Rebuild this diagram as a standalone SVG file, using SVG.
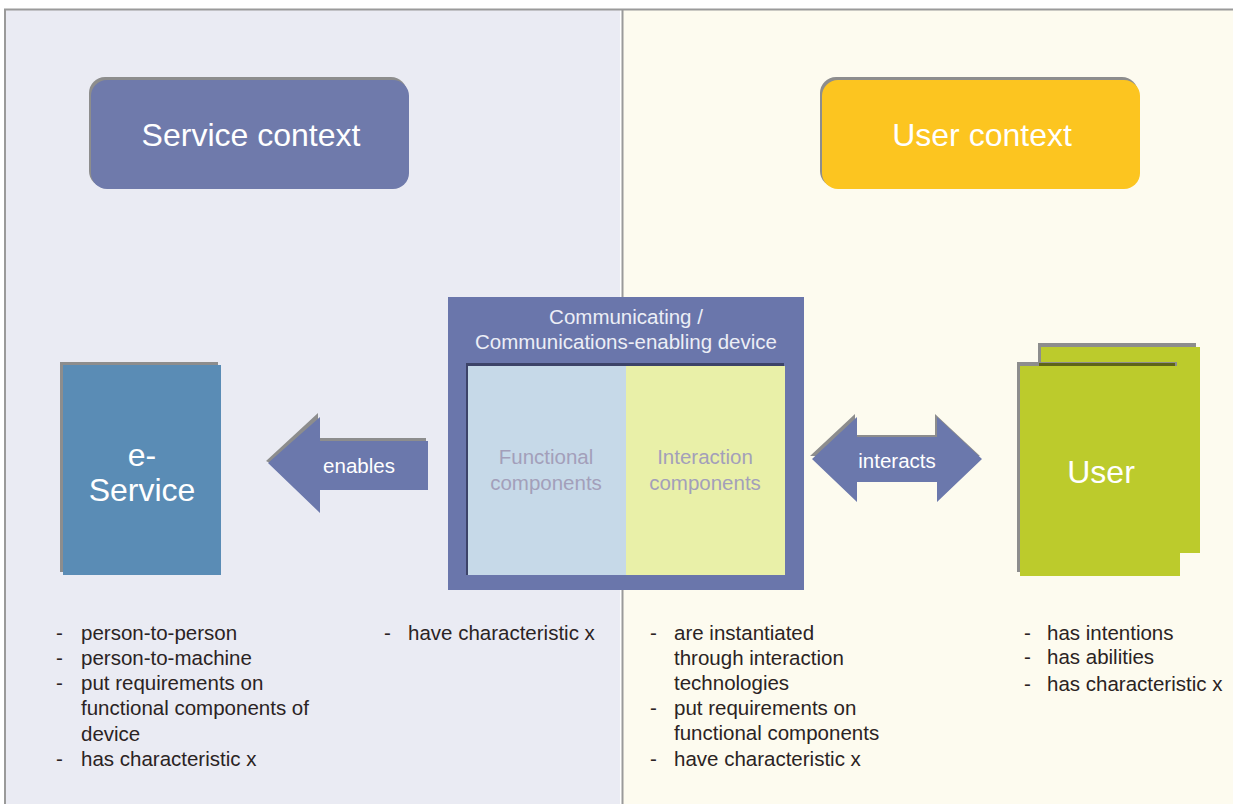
<svg xmlns="http://www.w3.org/2000/svg" width="1233" height="804" viewBox="0 0 1233 804">
<style>
text{font-family:"Liberation Sans",Arial,sans-serif}
.w{fill:#ffffff}
.lst{fill:#2b2323;font-size:20.5px}
.comp{fill:#a39fba;font-size:20.5px}
.shadow{fill:#8d8d8d}
.arrow{fill:#6b78ac}
</style>
<rect x="0" y="0" width="1233" height="804" fill="#ffffff"/>
<g id="panels">
<rect x="4" y="9" width="616" height="795" fill="#eaebf3"/>
<rect x="623" y="9" width="610" height="795" fill="#fdfbef"/>
<line x1="4" y1="9.5" x2="1233" y2="9.5" stroke="#9a9a9a" stroke-width="2"/>
<line x1="5" y1="9" x2="5" y2="804" stroke="#9a9a9a" stroke-width="2"/>
<line x1="622.5" y1="9" x2="622.5" y2="804" stroke="#9a9a9a" stroke-width="2"/>
</g>
<g id="service-context">
<rect x="89" y="77" width="318" height="110" rx="16" class="shadow"/>
<rect x="91" y="80" width="318" height="109" rx="16" fill="#6f7aab"/>
<text x="251" y="146" text-anchor="middle" font-size="32" class="w">Service context</text>
</g>
<g id="user-context">
<rect x="820" y="77" width="318" height="110" rx="16" class="shadow"/>
<rect x="822" y="80" width="318" height="109" rx="16" fill="#fcc520"/>
<text x="982" y="146" text-anchor="middle" font-size="32" class="w">User context</text>
</g>
<g id="device">
<rect x="448" y="297" width="356" height="293" fill="#6a76ab"/>
<rect x="466" y="363" width="318" height="212" fill="#3c4368"/>
<rect x="468" y="366" width="158" height="209" fill="#c6d9e8"/>
<rect x="626" y="366" width="159" height="209" fill="#e9f0a8"/>
<text x="626" y="324" text-anchor="middle" font-size="20.5" fill="#eceef6">Communicating /</text>
<text x="626" y="349" text-anchor="middle" font-size="20.5" fill="#eceef6">Communications-enabling device</text>
<text x="546" y="464" text-anchor="middle" class="comp">Functional</text>
<text x="546" y="490" text-anchor="middle" class="comp">components</text>
<text x="705" y="464" text-anchor="middle" class="comp">Interaction</text>
<text x="705" y="490" text-anchor="middle" class="comp">components</text>
</g>
<g id="e-service">
<rect x="60" y="362" width="158" height="210" class="shadow"/>
<rect x="63" y="365" width="158" height="210" fill="#5a8cb5"/>
<text x="142" y="466" text-anchor="middle" font-size="32" class="w">e-</text>
<text x="142" y="501" text-anchor="middle" font-size="32" class="w">Service</text>
</g>
<g id="user">
<rect x="1038" y="343" width="158" height="208" class="shadow"/>
<rect x="1041" y="347" width="159" height="206" fill="#bccb2c"/>
<rect x="1017" y="362" width="160" height="210" class="shadow"/>
<rect x="1020" y="366" width="160" height="210" fill="#bccb2c"/>
<rect x="1039" y="363" width="136" height="3" fill="#5e6418"/>
<text x="1101" y="483" text-anchor="middle" font-size="32" class="w">User</text>
</g>
<g id="connectors">
<g id="enables">
<polygon points="266,461 318,413 318,438 426,438 426,488 318,488" class="shadow"/>
<polygon points="268,463 320,417 320,441 428,441 428,490 320,490 320,513" class="arrow"/>
<text x="359" y="473" text-anchor="middle" font-size="20.5" class="w">enables</text>
</g>
<g id="interacts">
<polygon points="810,456 855,414 855,435 935,435 935,414 980,456" class="shadow"/>
<polygon points="812,459 857,417 857,437 937,437 937,417 982,459 937,502 937,482 857,482 857,502" class="arrow"/>
<text x="897" y="468" text-anchor="middle" font-size="20.5" class="w">interacts</text>
</g>
</g>
<g id="notes">
<g class="lst">
<text x="56" y="640">-</text><text x="81" y="640">person-to-person</text>
<text x="56" y="665">-</text><text x="81" y="665">person-to-machine</text>
<text x="56" y="690">-</text><text x="81" y="690">put requirements on</text>
<text x="81" y="715">functional components of</text>
<text x="81" y="741">device</text>
<text x="56" y="766">-</text><text x="81" y="766">has characteristic x</text>
<text x="384" y="640">-</text><text x="408" y="640">have characteristic x</text>
<text x="650" y="640">-</text><text x="674" y="640">are instantiated</text>
<text x="674" y="665">through interaction</text>
<text x="674" y="690">technologies</text>
<text x="650" y="715">-</text><text x="674" y="715">put requirements on</text>
<text x="674" y="740">functional components</text>
<text x="650" y="766">-</text><text x="674" y="766">have characteristic x</text>
<text x="1024" y="640">-</text><text x="1047" y="640">has intentions</text>
<text x="1024" y="664">-</text><text x="1047" y="664">has abilities</text>
<text x="1024" y="691">-</text><text x="1047" y="691">has characteristic x</text>
</g>
</g>
</svg>
